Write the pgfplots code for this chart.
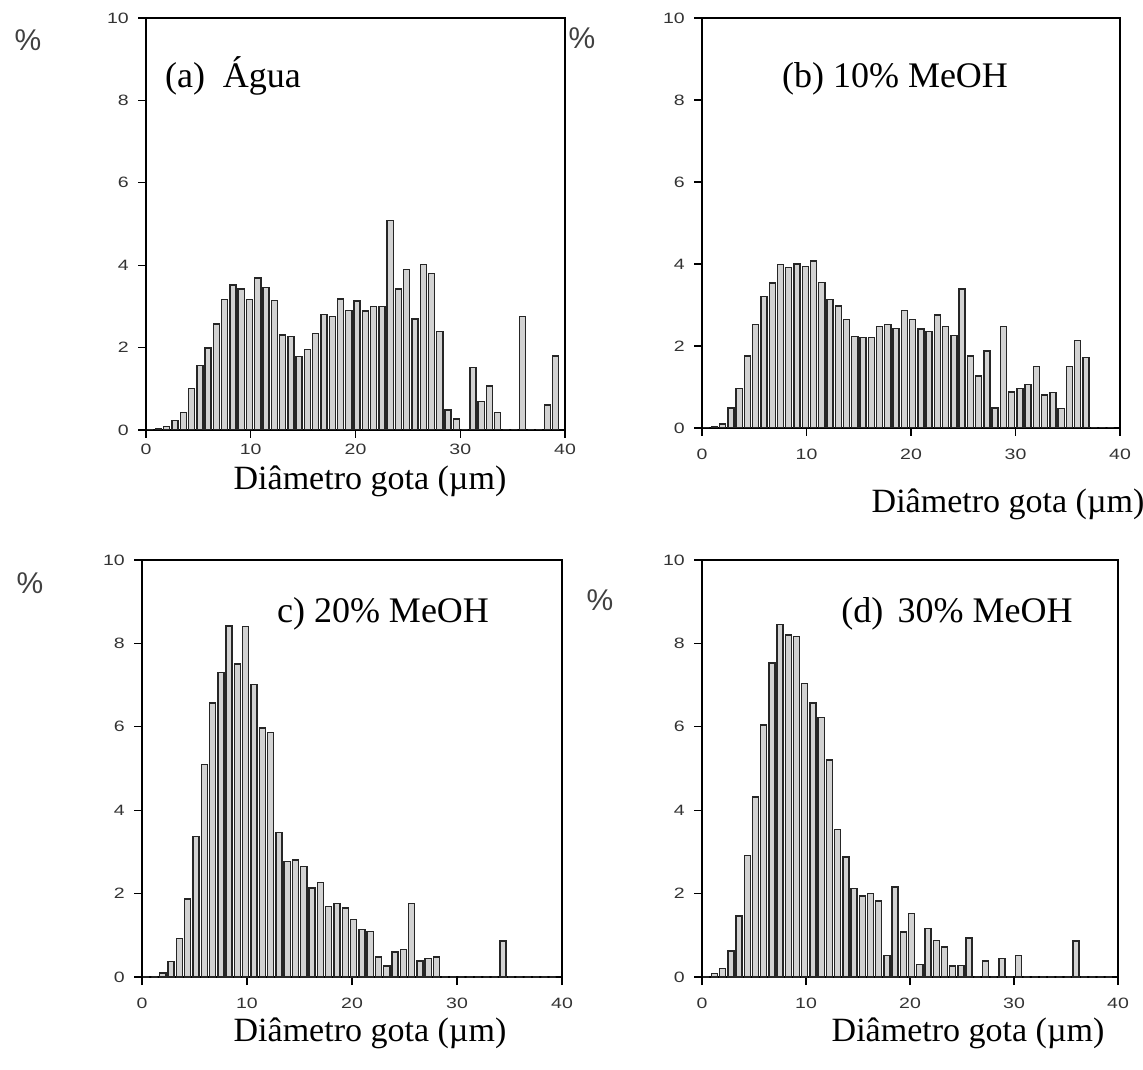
\documentclass[border=0pt]{standalone}
\usepackage{fontspec}
\setmainfont{Liberation Serif}
\setsansfont{Liberation Sans}
\usepackage{pgfplots}
\usepackage{pgfplotstable}
\pgfplotsset{compat=1.18}

% droplet size histograms, % of drops per 0.79 um bin
\pgfplotstableread{
x     a     b     c     d
0.40  0     0     0     0
1.19  0.03  0.03  0     0.08
1.98  0.08  0.10  0.10  0.20
2.77  0.23  0.49  0.37  0.62
3.56  0.43  0.96  0.93  1.46
4.35  1.00  1.76  1.87  2.92
5.14  1.56  2.52  3.37  4.32
5.93  1.99  3.20  5.09  6.04
6.72  2.57  3.54  6.57  7.53
7.51  3.17  3.99  7.30  8.45
8.30  3.52  3.92  8.42  8.20
9.09  3.42  4.00  7.51  8.16
9.88  3.16  3.94  8.40  7.04
10.67 3.69  4.07  7.01  6.57
11.46 3.46  3.55  5.97  6.22
12.25 3.14  3.13  5.87  5.20
13.04 2.31  2.98  3.47  3.53
13.83 2.27  2.64  2.77  2.88
14.62 1.79  2.23  2.81  2.12
15.41 1.95  2.21  2.65  1.94
16.20 2.34  2.21  2.13  2.00
16.99 2.80  2.47  2.27  1.82
17.78 2.75  2.53  1.69  0.52
18.57 3.18  2.42  1.76  2.16
19.36 2.90  2.86  1.65  1.08
20.15 3.13  2.64  1.38  1.53
20.94 2.89  2.41  1.14  0.30
21.73 3.00  2.35  1.09  1.16
22.52 3.00  2.76  0.48  0.88
23.31 5.08  2.47  0.26  0.72
24.10 3.42  2.25  0.60  0.26
24.89 3.90  3.39  0.66  0.28
25.68 2.69  1.76  1.76  0.94
26.47 4.01  1.27  0.38  0
27.26 3.80  1.88  0.44  0.38
28.05 2.39  0.49  0.48  0
28.84 0.49  2.47  0     0.44
29.63 0.27  0.88  0     0
30.42 0     0.96  0     0.52
31.21 1.52  1.06  0     0
32.00 0.69  1.50  0     0
32.79 1.07  0.80  0     0
33.58 0.43  0.86  0     0
34.37 0     0.47  0.86  0
35.16 0     1.50  0     0
35.95 2.75  2.14  0     0.86
36.74 0     1.72  0     0
37.53 0     0     0     0
38.32 0.61  0     0     0
39.11 1.80  0     0     0
}\gotas

\pgfplotsset{
  painel/.style={
    scale only axis, anchor=south west,
    xmin=0, xmax=40, ymin=0, ymax=10,
    xtick={0,10,20,30,40}, ytick={0,2,4,6,8,10},
    xtick pos=left, ytick pos=left,
    tick align=outside, major tick length=4pt,
    axis line style={line width=0.9pt},
    tick style={line width=0.6pt, black},
    tick label style={font=\fontsize{7.5}{8}\selectfont\sffamily, xscale=1.3, text=black!80},
    xticklabel style={yshift=-3pt},
    /pgf/number format/assume math mode=true,
    ybar, bar width=0.58, bar shift=0pt,
  },
  barra/.style={fill=gray!35, draw=black!85, line width=0.7pt},
}

\begin{document}
\begin{tikzpicture}
\useasboundingbox (0,0) rectangle (571.5pt,534.5pt);

\begin{axis}[painel, at={(73pt,319.5pt)}, width=209.5pt, height=206pt,
  xticklabel style={yshift=3.5pt}]
\addplot[barra] table[x=x, y=a]{\gotas};
\end{axis}
\begin{axis}[painel, at={(351pt,320.5pt)}, width=209pt, height=205pt]
\addplot[barra] table[x=x, y=b]{\gotas};
\end{axis}
\begin{axis}[painel, at={(71pt,46pt)}, width=210pt, height=208.5pt]
\addplot[barra] table[x=x, y=c]{\gotas};
\end{axis}
\begin{axis}[painel, at={(351pt,46pt)}, width=208pt, height=208.5pt]
\addplot[barra] table[x=x, y=d]{\gotas};
\end{axis}

% percent signs
\begin{scope}[every node/.style={font=\fontsize{15}{18}\selectfont\sffamily, text=black!75}]
\node at (14pt,514.5pt) {\%};
\node at (291pt,515.5pt) {\%};
\node at (15pt,243pt) {\%};
\node at (300pt,234.5pt) {\%};
\end{scope}

% panel titles
\begin{scope}[every node/.style={font=\fontsize{18}{20}\selectfont, anchor=base}]
\node at (116.5pt,490.5pt) {(a)\hspace{0.5em}Água};
\node at (447.5pt,490.5pt) {(b) 10\% MeOH};
\node at (191.5pt,223pt) {c) 20\% MeOH};
\node at (478.5pt,223pt) {(d)\hspace{0.4em}30\% MeOH};
\end{scope}

% x labels
\begin{scope}[every node/.style={font=\fontsize{17}{19}\selectfont, anchor=base}]
\node at (185pt,289.5pt) {Diâmetro gota (µm)};
\node at (504pt,278pt) {Diâmetro gota (µm)};
\node at (185pt,14pt) {Diâmetro gota (µm)};
\node at (484pt,14pt) {Diâmetro gota (µm)};
\end{scope}
\end{tikzpicture}
\end{document}
